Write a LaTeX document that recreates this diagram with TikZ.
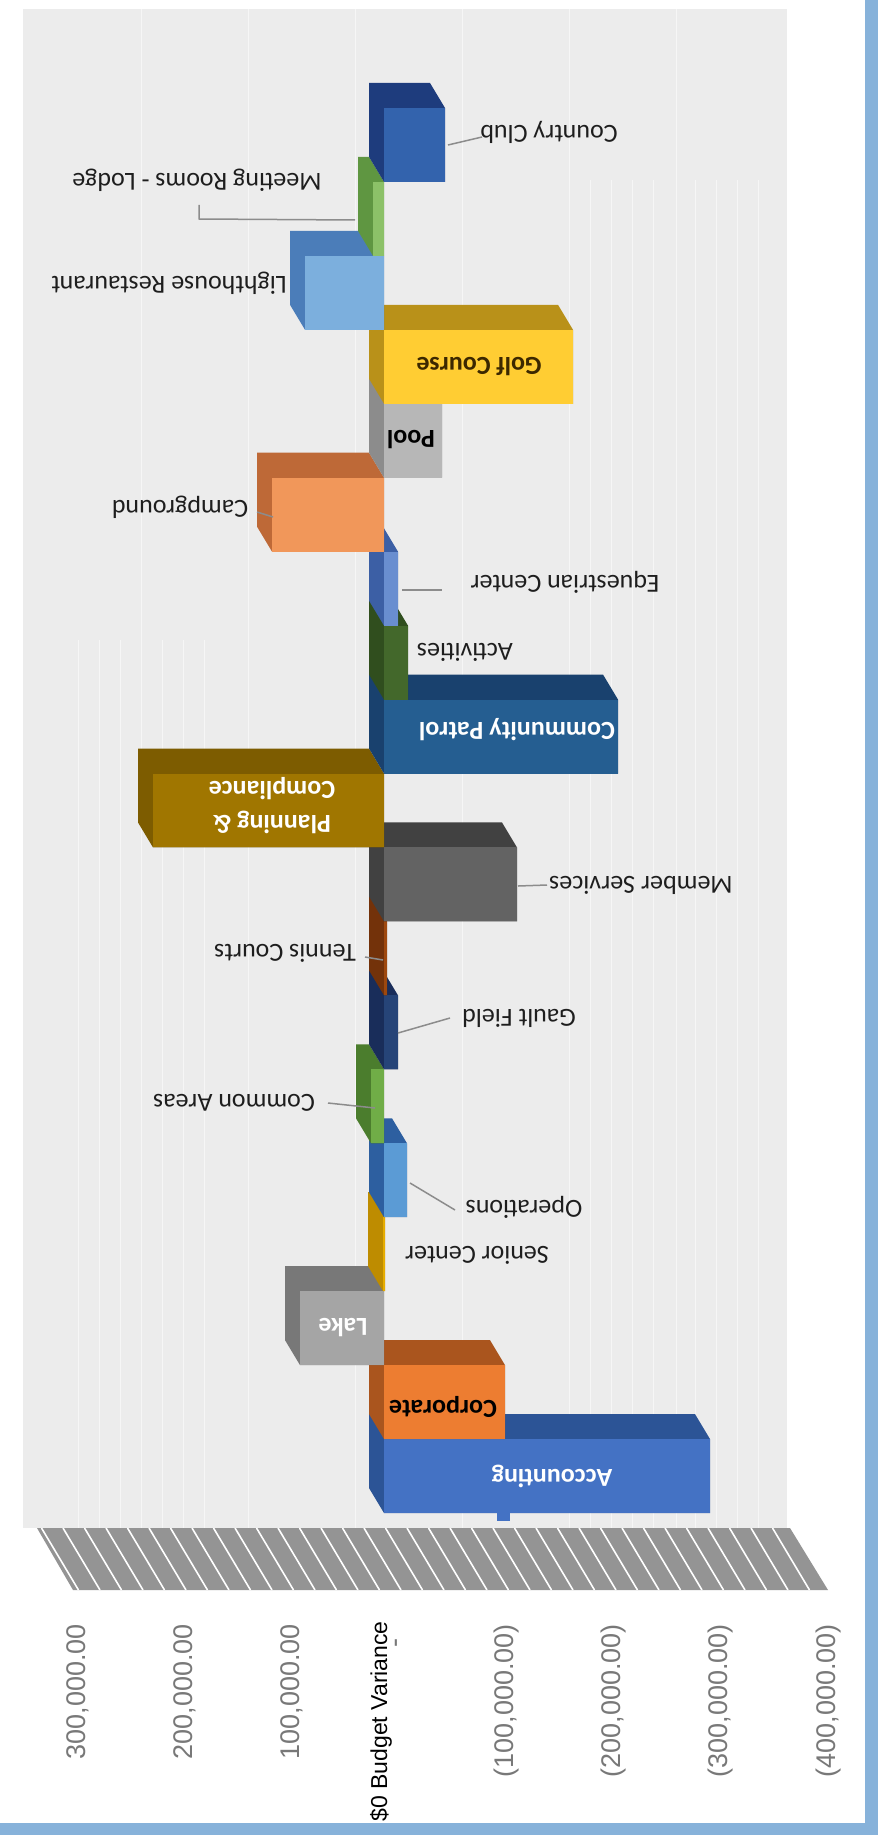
\documentclass[tikz,border=0pt]{standalone}
\usepackage{fontspec}
\newfontfamily\calfont{Carlito}
\newfontfamily\arifont{Liberation Sans}
\definecolor{panel}{RGB}{236,236,236}
\definecolor{floorc}{RGB}{148,148,148}
\definecolor{bord}{RGB}{135,178,218}
\definecolor{axgray}{RGB}{120,120,120}
\definecolor{labtxt}{RGB}{30,30,30}
\definecolor{leadgray}{RGB}{140,140,140}
\definecolor{f0}{RGB}{68,114,196}\definecolor{d0}{RGB}{44,84,150}
\definecolor{f1}{RGB}{237,125,49}\definecolor{d1}{RGB}{170,85,30}
\definecolor{f2}{RGB}{165,165,165}\definecolor{d2}{RGB}{120,120,120}
\definecolor{f3}{RGB}{230,172,0}\definecolor{d3}{RGB}{190,140,0}
\definecolor{f4}{RGB}{91,155,213}\definecolor{d4}{RGB}{45,95,160}
\definecolor{f5}{RGB}{112,173,71}\definecolor{d5}{RGB}{75,125,45}
\definecolor{f6}{RGB}{38,68,120}\definecolor{d6}{RGB}{25,45,90}
\definecolor{f7}{RGB}{158,72,14}\definecolor{d7}{RGB}{115,50,10}
\definecolor{f8}{RGB}{99,99,99}\definecolor{d8}{RGB}{65,65,65}
\definecolor{f9}{RGB}{160,118,0}\definecolor{d9}{RGB}{125,92,0}
\definecolor{f10}{RGB}{37,94,145}\definecolor{d10}{RGB}{25,65,110}
\definecolor{f11}{RGB}{67,104,43}\definecolor{d11}{RGB}{48,78,30}
\definecolor{f12}{RGB}{105,142,208}\definecolor{d12}{RGB}{60,95,165}
\definecolor{f13}{RGB}{241,151,90}\definecolor{d13}{RGB}{190,105,55}
\definecolor{f14}{RGB}{183,183,183}\definecolor{d14}{RGB}{140,140,140}
\definecolor{f15}{RGB}{255,205,51}\definecolor{d15}{RGB}{185,145,25}
\definecolor{f16}{RGB}{124,175,221}\definecolor{d16}{RGB}{75,125,185}
\definecolor{f17}{RGB}{140,193,104}\definecolor{d17}{RGB}{95,150,65}
\definecolor{f18}{RGB}{51,99,173}\definecolor{d18}{RGB}{30,60,125}
\tikzset{
  inlab/.style={rotate=180, font=\calfont\bfseries\fontsize{26}{34}\selectfont, inner sep=0pt},
  outlab/.style={rotate=180, font=\calfont\fontsize{26}{30}\selectfont, text=labtxt, inner sep=0pt},
  axlab/.style={rotate=90, anchor=east, font=\arifont\fontsize{27}{27}\selectfont, text=axgray, inner sep=0pt},
  leader/.style={draw=leadgray, line width=1.5pt},
  gridl/.style={draw=white, line width=1pt, opacity=0.55}
}
% #1 index, #2 left x, #3 right x, #4 colour index
\newcommand\drawbar[4]{%
  \pgfmathsetmacro\yb{1513-73.95*#1}%
  \pgfmathsetmacro\yt{\yb-73.95}%
  \fill[d#4] (#2-15,\yt-25) -- (#3-15,\yt-25) -- (#3,\yt) -- (#3,\yb) -- (#2,\yb) -- (#2-15,\yb-25) -- cycle;
  \fill[f#4] (#2,\yt) rectangle (#3,\yb);
}
\begin{document}
\begin{tikzpicture}[x=1pt,y=-1pt]
\useasboundingbox (0,0) rectangle (878,1835);
\fill[white] (0,0) rectangle (878,1835);
% plot panel
\fill[panel] (23,9) rectangle (787,1528);
\foreach \gx in {141,248,355,462,569,676} {\draw[gridl] (\gx,9) -- (\gx,1528);}
\foreach \gx in {590,611,632,653,695,716,737,758} {\draw[gridl] (\gx,180) -- (\gx,1528);}
\foreach \gx in {78,99,120,162,183,204} {\draw[gridl] (\gx,640) -- (\gx,1528);}
% hatched floor
\begin{scope}
  \clip (37,1528) -- (790,1528) -- (828,1590) -- (73,1590) -- cycle;
  \fill[floorc] (0,1500) rectangle (878,1600);
  \foreach \k in {0,...,40} {\draw[white, line width=1.6pt] (20+21.5*\k,1528) -- (57+21.5*\k,1590);}
\end{scope}
% bars, bottom to top
\drawbar{0}{384}{710}{0}
\fill[f0] (497,1513) rectangle (510,1521);
\drawbar{1}{384}{505}{1}
\drawbar{2}{300}{384}{2}
\drawbar{3}{383}{385}{3}
\drawbar{4}{384}{407}{4}
\drawbar{5}{371}{384}{5}
\drawbar{6}{384}{398}{6}
\drawbar{7}{384}{387}{7}
\drawbar{8}{384}{517}{8}
\drawbar{9}{153}{384}{9}
\drawbar{10}{384}{618}{10}
\drawbar{11}{384}{408}{11}
\drawbar{12}{384}{398}{12}
\drawbar{13}{272}{384}{13}
\drawbar{14}{384}{442}{14}
\drawbar{15}{384}{573}{15}
\drawbar{16}{305}{384}{16}
\drawbar{17}{373}{384}{17}
\drawbar{18}{384}{445}{18}
% labels inside bars
\node[inlab, text=white] (acc) at (552,1476) {Accounting};
\node[inlab, text=black] (corp) at (443,1407) {Corporate};
\node[inlab, text=white] (lake) at (343,1328) {Lake};
\node[inlab, text=white, align=center] (plan) at (272,806) {Planning \&\\Compliance};
\node[inlab, text=white] (cp) at (517,730) {Community Patrol};
\node[inlab, text=black] (pool) at (411,440) {Pool};
\node[inlab, text={rgb,255:red,60;green,40;blue,0}] (golf) at (479,367) {Golf Course};
% labels outside bars
\node[outlab] (sen) at (477,1255) {Senior Center};
\node[outlab] (ops) at (524,1207) {Operations};
\node[outlab] (com) at (234,1103) {Common Areas};
\node[outlab] (gault) at (519,1018) {Gault Field};
\node[outlab] (ten) at (285,953) {Tennis Courts};
\node[outlab] (mem) at (641,885) {Member Services};
\node[outlab] (act) at (465,652) {Activities};
\node[outlab] (equ) at (565,582) {Equestrian Center};
\node[outlab] (camp) at (180,507) {Campground};
\node[outlab] (light) at (169,283) {Lighthouse Restaurant};
\node[outlab] (meet) at (197,180) {Meeting Rooms - Lodge};
\node[outlab] (cc) at (549,132) {Country Club};
% leader lines
\coordinate (opsA) at (410,1183); \coordinate (opsB) at (455,1210);
\coordinate (comA) at (328,1103); \coordinate (comB) at (375,1108);
\coordinate (gaA) at (398,1033); \coordinate (gaB) at (450,1018);
\coordinate (tenA) at (365,957); \coordinate (tenB) at (383,960);
\coordinate (memA) at (518,886); \coordinate (memB) at (547,885);
\coordinate (equA) at (402,590); \coordinate (equB) at (442,590);
\coordinate (campA) at (257,512); \coordinate (campB) at (273,517);
\coordinate (meetA) at (199,205); \coordinate (meetB) at (199,219); \coordinate (meetC) at (355,220);
\coordinate (ccA) at (448,145); \coordinate (ccB) at (482,137);
\draw[leader] (opsA) -- (opsB);
\draw[leader] (comA) -- (comB);
\draw[leader] (gaA) -- (gaB);
\draw[leader] (tenA) -- (tenB);
\draw[leader] (memA) -- (memB);
\draw[leader] (equA) -- (equB);
\draw[leader] (campA) -- (campB);
\draw[leader] (meetA) -- (meetB) -- (meetC);
\draw[leader] (ccA) -- (ccB);
% value axis labels
\node[axlab] (v300) at (78,1624) {300,000.00};
\node[axlab] (v200) at (185,1624) {200,000.00};
\node[axlab] (v100) at (292,1624) {100,000.00};
\node[axlab, text=black, font=\arifont\fontsize{23}{23}\selectfont] (v0) at (381,1621) {\$0 Budget Variance};
\node[rotate=90, inner sep=0pt, text=axgray, font=\arifont\fontsize{27}{27}\selectfont] (vdash) at (399,1643) {-};
\node[axlab] (vm100) at (507,1624) {(100,000.00)};
\node[axlab] (vm200) at (614,1624) {(200,000.00)};
\node[axlab] (vm300) at (721,1624) {(300,000.00)};
\node[axlab] (vm400) at (828,1624) {(400,000.00)};
% window border
\fill[bord] (865,0) rectangle (878,1835);
\fill[bord] (0,1823) rectangle (878,1835);
\end{tikzpicture}
\end{document}
